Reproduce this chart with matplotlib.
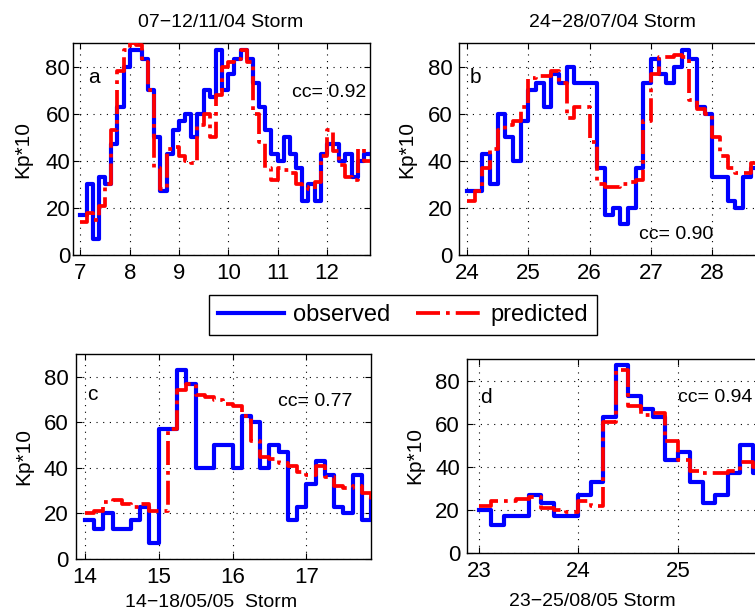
import matplotlib
matplotlib.use('Agg')
import matplotlib.pyplot as plt
import numpy as np

plt.rcParams['font.family'] = ['Liberation Sans', 'DejaVu Sans']

W, H = 755, 611
STEP = 0.125  # 3-hourly Kp index (1/8 day)

# ---------------- data (Kp*10) ----------------
start_a = 7.0
obs_a = [17, 30, 7, 33, 30, 47, 63, 80, 87, 87, 83, 70, 50, 27, 43, 53, 57, 60, 50, 60,
         70, 67, 87, 70, 77, 83, 87, 83, 73, 63, 53, 43, 40, 50, 43, 37, 23, 30, 23, 43,
         47, 47, 40, 43, 33, 40, 43]
pred_a = [14, 18, 15, 21, 30, 53, 78, 87, 90, 89, 82, 70, 37, 28, 45, 46, 42, 40, 39, 55,
          60, 50, 68, 80, 82, 83, 87, 82, 60, 48, 37, 32, 37, 36, 35, 30, 29, 28, 31, 42,
          53, 44, 38, 33, 32, 45, 40]

start_b = 24.0
obs_b = [27, 27, 43, 30, 60, 50, 40, 57, 70, 73, 63, 77, 73, 80, 73, 73, 73, 37, 17, 20,
         13, 20, 37, 73, 83, 77, 73, 80, 87, 83, 63, 60, 33, 33, 23, 20, 33, 37]
pred_b = [23, 27, 37, 45, 53, 55, 57, 63, 75, 76, 76, 78, 73, 58, 63, 63, 48, 30, 29, 29,
          30, 31, 32, 57, 77, 84, 84, 85, 84, 66, 62, 60, 50, 42, 37, 35, 35, 39]

start_c = 14.0
obs_c = [17, 13, 20, 13, 13, 17, 23, 7, 57, 57, 83, 77, 40, 40, 50, 50, 40, 63, 60, 40,
         50, 47, 17, 23, 33, 43, 37, 23, 20, 37, 17, 27]
pred_c = [20, 21, 25, 26, 24, 23, 24, 21, 21, 57, 74, 77, 72, 71, 70, 68, 67, 63, 52, 45,
          44, 42, 41, 38, 37, 41, 36, 32, 31, 32, 29, 26]

start_d = 23.0
obs_d = [20, 13, 17, 17, 27, 23, 17, 17, 27, 33, 63, 87, 73, 67, 63, 43, 47, 33, 23, 27,
         37, 50, 37]
pred_d = [22, 24, 24, 25, 26, 21, 20, 19, 24, 22, 61, 85, 68, 64, 65, 52, 43, 38, 37, 37,
          38, 42, 40]

titles = ['07\u221212/11/04 Storm', '24\u221228/07/04 Storm',
          '14\u221218/05/05  Storm', '23\u221225/08/05 Storm']
letters = ['a', 'b', 'c', 'd']
cc_labels = ['cc= 0.92', 'cc= 0.90', 'cc= 0.77', 'cc= 0.94']
xticks_list = [[7, 8, 9, 10, 11, 12], [24, 25, 26, 27, 28], [14, 15, 16, 17], [23, 24, 25]]
yticks = [0, 20, 40, 60, 80]
legend_labels = ['observed', 'predicted']


def rect(l, t, r, b):
    return [l / W, 1 - b / H, (r - l) / W, (b - t) / H]


fig = plt.figure(figsize=(W / 100, H / 100), dpi=100)

panels = [
    dict(rect=rect(73, 43, 370, 255), xlim=(6.85, 12.875), start=start_a, obs=obs_a, pred=pred_a,
         letter_xy=(7.16, 75.5), cc_xy=(12.80, 69), cc_ha='right', ypad=2.0, ylab_px=22.5,
         title_xy=(221, 27)),
    dict(rect=rect(459, 43, 765, 255), xlim=(23.87, 28.86), start=start_b, obs=obs_b, pred=pred_b,
         letter_xy=(24.05, 75.5), cc_xy=(26.81, 8.5), cc_ha='left', ypad=4.5, ylab_px=406.6,
         title_xy=(612, 27)),
    dict(rect=rect(76, 354, 371, 559), xlim=(13.88, 17.875), start=start_c, obs=obs_c, pred=pred_c,
         letter_xy=(14.03, 72), cc_xy=(16.62, 69), cc_ha='left', ypad=5.5, ylab_px=24,
         title_xy=(211.5, 607)),
    dict(rect=rect(467, 359, 763, 553), xlim=(22.88, 25.855), start=start_d, obs=obs_d, pred=pred_d,
         letter_xy=(23.01, 72), cc_xy=(25.0, 72), cc_ha='left', ypad=5.0, ylab_px=415,
         title_xy=(592.5, 606)),
]

handles = None
for i, p in enumerate(panels):
    ax = fig.add_axes(p['rect'])
    n = len(p['obs'])
    edges = p['start'] + STEP * np.arange(n + 1)
    obs = np.append(p['obs'], p['obs'][-1])
    pred = np.append(p['pred'], p['pred'][-1])
    l1, = ax.step(edges, obs, where='post', color='#0000ff', lw=3.0, zorder=3)
    l2, = ax.step(edges, pred, where='post', color='#ff0000', lw=2.7, ls='-.', zorder=4)
    if handles is None:
        handles = [l1, l2]
    ax.set_xlim(*p['xlim'])
    ax.set_ylim(0, 90)
    ax.set_xticks(xticks_list[i])
    ax.set_yticks(yticks)
    ax.grid(True, color='k', linestyle=(0, (1, 5)), linewidth=0.8)
    ax.tick_params(direction='in', top=True, right=True, length=4, width=0.8,
                   labelsize=16)
    ax.tick_params(axis='x', pad=6)
    ax.tick_params(axis='y', pad=p['ypad'])
    for s in ax.spines.values():
        s.set_linewidth(1.0)
    ax.set_ylabel('Kp*10', fontsize=15)
    l_px = p['rect'][0] * W
    w_px = p['rect'][2] * W
    ax.yaxis.set_label_coords((p['ylab_px'] - l_px) / w_px, 0.5)
    ax.yaxis.label.set_va('center')
    ax.text(p['letter_xy'][0], p['letter_xy'][1], letters[i], fontsize=15,
            ha='left', va='center')
    ax.text(p['cc_xy'][0], p['cc_xy'][1], cc_labels[i], fontsize=14,
            ha=p['cc_ha'], va='center')
    fig.text(p['title_xy'][0] / W, 1 - p['title_xy'][1] / H, titles[i],
             fontsize=14, ha='center', va='baseline')

leg = fig.legend(handles, legend_labels, loc='center',
                 bbox_to_anchor=(403 / W, 1 - 315 / H), ncol=2, fontsize=17,
                 frameon=True, fancybox=False, edgecolor='k', framealpha=1,
                 handlelength=2.8, handletextpad=0.35, columnspacing=1.1,
                 borderpad=0.4)
leg.get_frame().set_linewidth(1.0)

fig.savefig('out.png', dpi=100)
